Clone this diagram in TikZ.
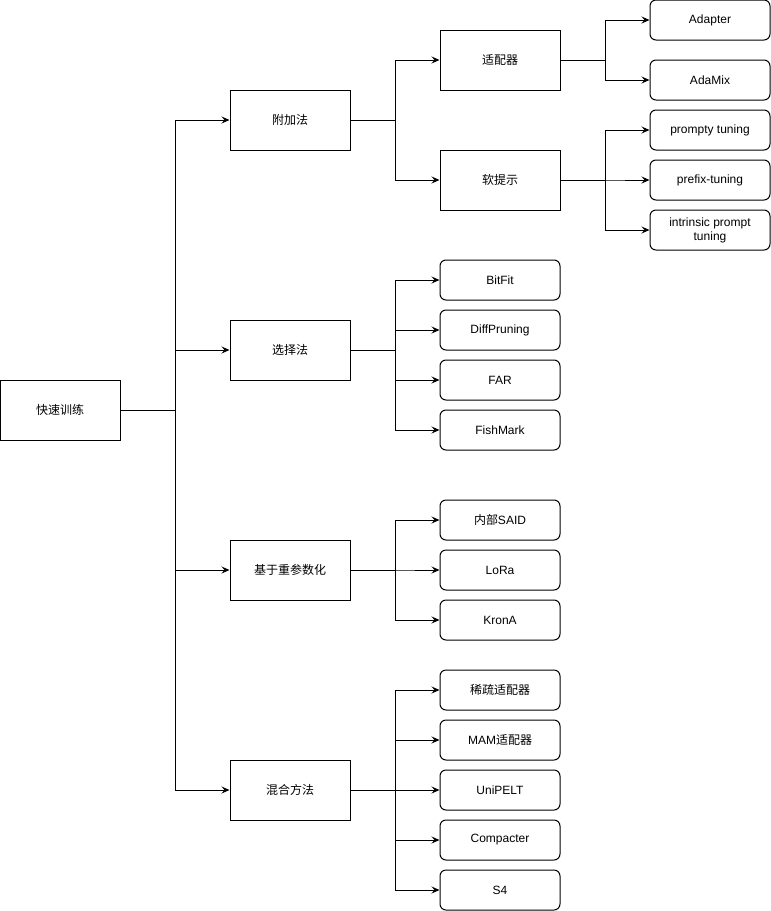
\documentclass[tikz,border=0pt]{standalone}
\usepackage{fontspec}
\setmainfont{Liberation Sans}
\newfontfamily\cjk{Noto Sans CJK SC}
\usepackage{tikz}
\usetikzlibrary{arrows.meta}

\tikzset{
  box/.style={draw, line width=1pt, minimum width=120pt, minimum height=60pt,
    inner sep=0pt, align=center, font=\fontsize{12}{14}\selectfont},
  leaf/.style={box, minimum height=40pt, rounded corners=6pt},
  arr/.style={line width=1pt, -{Stealth[length=8pt, width=7pt, inset=3pt]}},
  link/.style={line width=1pt}
}

\begin{document}
\begin{tikzpicture}[x=1pt, y=-1pt]
  \useasboundingbox (0,0) rectangle (771,911);
  % root
  \node [box] (fast) at (60,410) {\cjk 快速训练};
  % first level
  \node [box] (add) at (290,120) {\cjk 附加法};
  \node [box] (sel) at (290,350) {\cjk 选择法};
  \node [box] (rep) at (290,570) {\cjk 基于重参数化};
  \node [box] (mix) at (290,790) {\cjk 混合方法};
  % second level under add
  \node [box] (adp) at (500,60) {\cjk 适配器};
  \node [box] (soft) at (500,180) {\cjk 软提示};
  % leaves
  \node [leaf] (adapter) at (710,20) {Adapter};
  \node [leaf] (adamix) at (710,80) {AdaMix};
  \node [leaf] (prompty) at (710,130) {prompty tuning};
  \node [leaf] (prefix) at (710,180) {prefix-tuning};
  \node [leaf] (intr) at (710,230) {intrinsic prompt\\tuning};
  \node [leaf] (bitfit) at (500,280) {BitFit};
  \node [leaf] (diff) at (500,330) {DiffPruning};
  \node [leaf] (far) at (500,380) {FAR};
  \node [leaf] (fish) at (500,430) {FishMark};
  \node [leaf] (said) at (500,520) {{\cjk 内部}SAID};
  \node [leaf] (lora) at (500,570) {LoRa};
  \node [leaf] (krona) at (500,620) {KronA};
  \node [leaf] (sparse) at (500,690) {{\cjk 稀疏适配器}};
  \node [leaf] (mam) at (500,740) {MAM{\cjk 适配器}};
  \node [leaf] (uni) at (500,790) {UniPELT};
  \node [leaf] (comp) at (500,840) {Compacter};
  \node [leaf] (sfour) at (500,890) {S4};

  % connectors
  \draw [link] (fast.east) -- +(55,0) coordinate (trunk);
  \foreach \c in {add, sel, rep, mix}
    \draw [arr] (trunk) |- (\c.west);
  \foreach \c in {adp, soft}
    \draw [arr] (add.east) -- +(45,0) |- (\c.west);
  \foreach \c in {adapter, adamix}
    \draw [arr] (adp.east) -- +(45,0) |- (\c.west);
  \foreach \c in {prompty, prefix, intr}
    \draw [arr] (soft.east) -- +(45,0) |- (\c.west);
  \foreach \c in {bitfit, diff, far, fish}
    \draw [arr] (sel.east) -- +(45,0) |- (\c.west);
  \foreach \c in {said, lora, krona}
    \draw [arr] (rep.east) -- +(45,0) |- (\c.west);
  \foreach \c in {sparse, mam, uni, comp, sfour}
    \draw [arr] (mix.east) -- +(45,0) |- (\c.west);
\end{tikzpicture}
\end{document}
